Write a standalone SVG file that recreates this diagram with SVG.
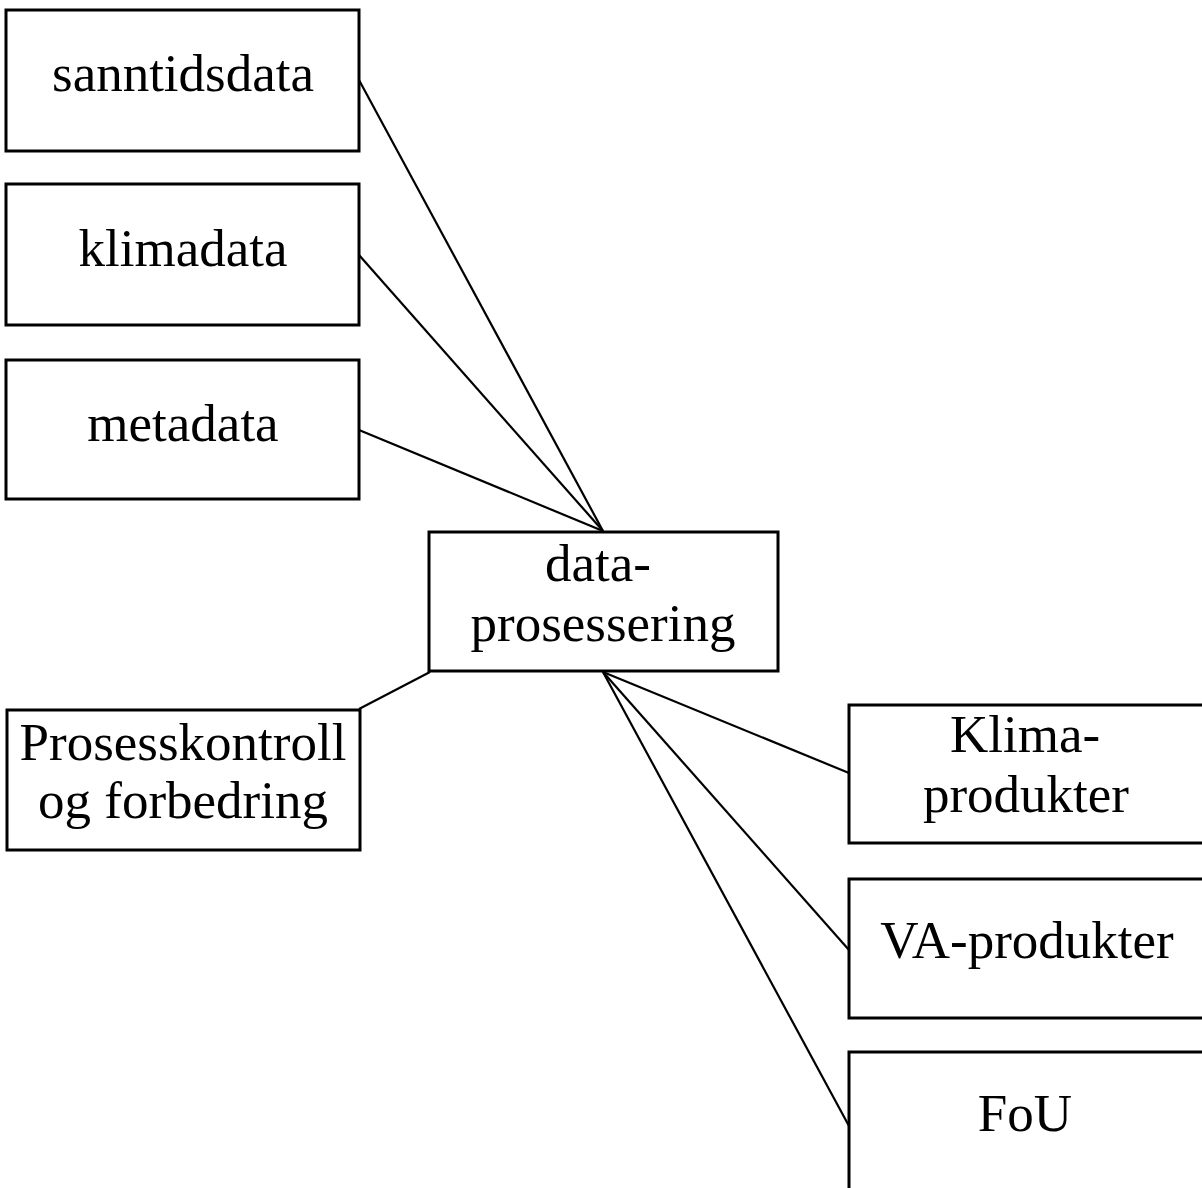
<svg xmlns="http://www.w3.org/2000/svg" width="1202" height="1188" viewBox="0 0 1202 1188">
<style>
.box{fill:#fff;stroke:#000;stroke-width:3}
.lbl{font-family:"Liberation Serif","Times New Roman",serif;font-size:53px;fill:#000;text-anchor:middle}
.con line{stroke:#000;stroke-width:2.2}
</style>
<rect width="1202" height="1188" fill="#fff"/>
<g id="connectors" class="con">
<line x1="359" y1="80" x2="603" y2="531"/>
<line x1="359" y1="255" x2="603" y2="531"/>
<line x1="359" y1="430" x2="603" y2="531"/>
<line x1="603" y1="672" x2="849" y2="773"/>
<line x1="603" y1="672" x2="849" y2="950"/>
<line x1="603" y1="672" x2="849" y2="1126"/>
<line x1="430" y1="672" x2="359" y2="709"/>
</g>
<g id="sanntidsdata"><rect class="box" x="6" y="10" width="353" height="141"/><text class="lbl" x="183" y="91">sanntidsdata</text></g>
<g id="klimadata"><rect class="box" x="6" y="184" width="353" height="141"/><text class="lbl" x="183" y="266">klimadata</text></g>
<g id="metadata"><rect class="box" x="6" y="360" width="353" height="139"/><text class="lbl" x="183" y="441">metadata</text></g>
<g id="dataprosessering"><rect class="box" x="429" y="532" width="349" height="139"/><text class="lbl" x="598" y="581">data-</text><text class="lbl" x="603" y="641">prosessering</text></g>
<g id="prosesskontroll"><rect class="box" x="7" y="710" width="353" height="140"/><text class="lbl" x="183" y="760">Prosesskontroll</text><text class="lbl" x="183" y="818">og forbedring</text></g>
<g id="klimaprodukter"><rect class="box" x="849" y="705" width="360" height="138"/><text class="lbl" x="1025" y="752">Klima-</text><text class="lbl" x="1026" y="812">produkter</text></g>
<g id="vaprodukter"><rect class="box" x="849" y="879" width="360" height="139"/><text class="lbl" x="1027" y="958">VA-produkter</text></g>
<g id="fou"><rect class="box" x="849" y="1052" width="360" height="150"/><text class="lbl" x="1025" y="1131">FoU</text></g>
</svg>
